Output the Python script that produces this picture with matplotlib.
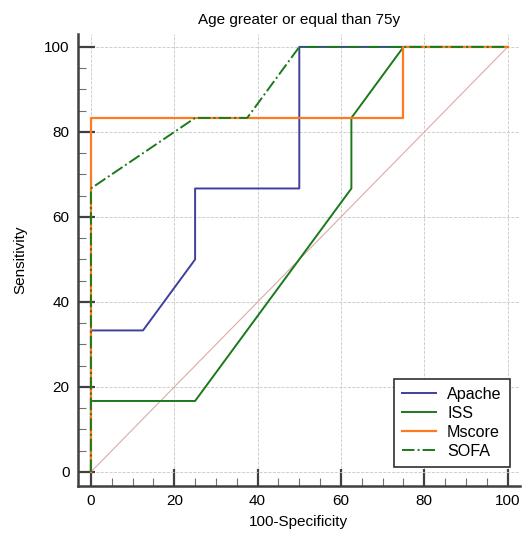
import matplotlib.pyplot as plt
from matplotlib.ticker import MultipleLocator

plt.rcParams['font.family'] = ['Liberation Sans', 'DejaVu Sans']

# ROC coordinates (100-specificity, sensitivity)
apache_x = [0, 0, 12.5, 25, 25, 50, 50, 100]
apache_y = [0, 33.3, 33.3, 50, 66.7, 66.7, 100, 100]
iss_x = [0, 0, 25, 62.5, 62.5, 75, 100]
iss_y = [0, 16.7, 16.7, 66.7, 83.3, 100, 100]
mscore_x = [0, 0, 75, 75, 100]
mscore_y = [0, 83.3, 83.3, 100, 100]
sofa_x = [0, 0, 25, 37.5, 50, 100]
sofa_y = [0, 66.7, 83.3, 83.3, 100, 100]
ref_line = [0, 100]

fig = plt.figure(figsize=(5.32, 5.34), dpi=100)
ax = fig.add_axes([0.1466, 0.0899, 0.8304, 0.8461])

ax.plot(ref_line, ref_line, color='#dcaaaa', lw=0.8, zorder=1)
ax.plot(apache_x, apache_y, color='#3f3f9f', lw=1.4, label='Apache', zorder=2)
ax.plot(iss_x, iss_y, color='#1a7a1a', lw=1.4, label='ISS', zorder=3)
ax.plot(mscore_x, mscore_y, color='#ff7a1e', lw=1.6, label='Mscore', zorder=4)
ax.plot(sofa_x, sofa_y, color='#1a7a1a', lw=1.4, ls='-.', label='SOFA', zorder=5)

ax.set_xlim(-3.1, 102.9)
ax.set_ylim(-3.3, 103)
ax.xaxis.set_major_locator(MultipleLocator(20))
ax.xaxis.set_minor_locator(MultipleLocator(5))
ax.yaxis.set_major_locator(MultipleLocator(20))
ax.yaxis.set_minor_locator(MultipleLocator(5))

ax.grid(True, which='major', color='#c8c8c8', ls='--', lw=0.6)
ax.set_axisbelow(True)

for side in ['top', 'right']:
    ax.spines[side].set_visible(False)
for side in ['left', 'bottom']:
    ax.spines[side].set_color('#404040')
    ax.spines[side].set_linewidth(1.8)

ax.tick_params(which='major', direction='in', length=12, width=1.6,
               color='#404040', labelsize=11, pad=6)
ax.tick_params(which='minor', direction='in', length=6, width=0.8, color='#707070')

ax.set_xlabel('100-Specificity', fontsize=11, labelpad=5)
ax.set_ylabel('Sensitivity', fontsize=11, labelpad=12)
ax.set_title('Age greater or equal than 75y', fontsize=11, pad=7)

leg = ax.legend(loc='lower right', bbox_to_anchor=(0.977, 0.042), fontsize=11.6,
                fancybox=False, framealpha=1, edgecolor='#303030',
                handlelength=2.1, handletextpad=0.7, borderpad=0.5,
                labelspacing=0.25, borderaxespad=0)
leg.get_frame().set_linewidth(1.2)

fig.savefig('out.png', dpi=100)
